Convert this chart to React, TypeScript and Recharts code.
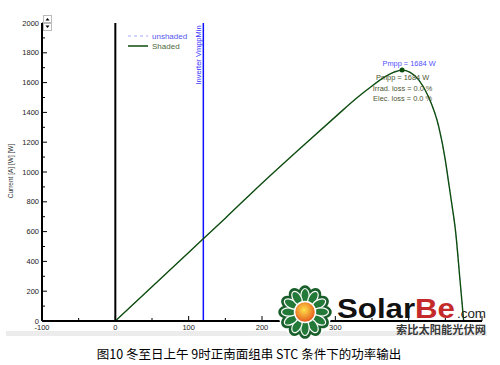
import { ComposedChart, Line, XAxis, YAxis, ReferenceLine, ReferenceDot, Legend } from "recharts";

// array voltage [V] vs power [W]
const voltage = [0, 50, 100, 150, 200, 250, 300, 330, 346, 368, 380, 391, 402, 414, 427, 441, 450, 454, 459, 464, 470, 475];
const power = [0, 230, 460, 690, 925, 1150, 1370, 1500, 1562, 1640, 1670, 1684, 1668, 1617, 1505, 1304, 1080, 946, 780, 600, 275, 0];

const xTicks = [-100, -50, 0, 50, 100, 150, 200, 250, 300, 350, 400, 450, 500];
const xLabels = [-100, 0, 100, 200, 300];
const yTicks = [0, 100, 200, 300, 400, 500, 600, 700, 800, 900, 1000, 1100, 1200, 1300, 1400, 1500, 1600, 1700, 1800, 1900, 2000];
const rightTicks = [200, 400, 600, 800, 1000, 1200, 1400, 1600, 1800, 1900];

const seriesOrder = ["unshaded", "Shaded"];
const vmppMin = 120;
const mppV = 391;
const mppP = 1684;
const infoLines = ["Pmpp = 1684 W", "Irrad. loss = 0.0 %", "Elec. loss = 0.0 %"];

const data = voltage.map((v, i) => ({ v, unshaded: power[i], shaded: power[i] }));

const FONT = "'Liberation Sans', Arial, sans-serif";

function YTick(props: any) {
  const { x, y, payload } = props;
  const major = payload.value % 200 === 0;
  return (
    <g>
      <line x1={x + 3} x2={x + 3 + (major ? 5 : 3)} y1={y} y2={y} stroke="#000" />
      {major && (
        <text x={x} y={y} dy="0.355em" textAnchor="end" fontSize={7.5} fill="#222" fontFamily={FONT}>
          {payload.value}
        </text>
      )}
    </g>
  );
}

function XTick(props: any) {
  const { x, y, payload } = props;
  const major = payload.value % 100 === 0;
  const axisY = y - 4;
  return (
    <g>
      <line x1={x} x2={x} y1={axisY} y2={axisY - (major ? 5 : 3)} stroke="#000" />
      {xLabels.includes(payload.value) && (
        <text x={x} y={y} dy="0.71em" textAnchor="middle" fontSize={7.5} fill="#222" fontFamily={FONT}>
          {payload.value}
        </text>
      )}
    </g>
  );
}

const VmppLabel = (props: any) => {
  const { viewBox } = props;
  const cx = viewBox.x - 2.5;
  const cy = viewBox.y + 32;
  return (
    <text
      x={cx}
      y={cy}
      transform={`rotate(-90 ${cx} ${cy})`}
      textAnchor="middle"
      fontSize={7.5}
      fill="#3333ff"
      fontFamily={FONT}
    >
      Inverter VmppMin
    </text>
  );
};

const MppLabel = (props: any) => {
  const { viewBox } = props;
  const cx = viewBox.x + viewBox.width / 2;
  const cy = viewBox.y + viewBox.height / 2;
  return (
    <g fontFamily={FONT} fontSize={7.4} textAnchor="middle">
      <text x={cx + 7} y={cy - 4} fill="#5050ff">
        Pmpp = {mppP} W
      </text>
      {infoLines.map((t, i) => (
        <text key={t} x={cx + 0.5} y={cy + 10 + i * 10.5} fill="#4b5530">
          {t}
        </text>
      ))}
    </g>
  );
};

const renderLegend = (props: any) => {
  const items = [...props.payload].sort(
    (a: any, b: any) => seriesOrder.indexOf(a.value) - seriesOrder.indexOf(b.value)
  );
  return (
    <div style={{ fontFamily: FONT, fontSize: 8 }}>
      {items.map((entry: any) => {
        const dashed = entry.value === "unshaded";
        return (
          <div key={entry.value} style={{ display: "flex", alignItems: "center", height: 10 }}>
            <svg width={26} height={10}>
              <line
                x1={2}
                x2={22}
                y1={5}
                y2={5}
                stroke={dashed ? "#a8a8ff" : "#0d4d0d"}
                strokeWidth={dashed ? 1 : 1.5}
                strokeDasharray={dashed ? "3 3" : undefined}
              />
            </svg>
            <span style={{ color: dashed ? "#5555ee" : "#4b6b3b" }}>{entry.value}</span>
          </div>
        );
      })}
    </div>
  );
};

function Flower() {
  const petals = Array.from({ length: 12 }, (_, k) => k * 30);
  return (
    <svg width={60} height={60} viewBox="-30 -30 60 60">
      <defs>
        <radialGradient id="sun" cx="45%" cy="40%" r="60%">
          <stop offset="0%" stopColor="#ffe04a" />
          <stop offset="100%" stopColor="#e5561b" />
        </radialGradient>
      </defs>
      <circle r={27} fill="#fff" />
      {petals.map((a) => (
        <ellipse key={"o" + a} cx={0} cy={-16} rx={6} ry={9.5} fill="#1a5f2b" stroke="#1a5f2b" strokeWidth={2.5} transform={`rotate(${a})`} />
      ))}
      {petals.map((a) => (
        <ellipse key={"i" + a} cx={0} cy={-16} rx={4.2} ry={7.5} fill="#237a38" stroke="#fff" strokeWidth={1.2} transform={`rotate(${a})`} />
      ))}
      <circle r={10.5} fill="url(#sun)" stroke="#fff" strokeWidth={1.5} />
    </svg>
  );
}

export default function App() {
  return (
    <div style={{ position: "absolute", left: 0, top: 0, width: 500, height: 365, background: "#fff" }}>
      <div style={{ position: "absolute", left: 6, top: 331, width: 481, height: 5, background: "#ececec" }} />
      <div style={{ position: "absolute", left: 0, top: 0 }}>
        <ComposedChart width={500} height={365} data={data} margin={{ top: 23, right: 18, left: 0, bottom: 0 }}>
          <XAxis
            dataKey="v"
            type="number"
            domain={[-100, 500]}
            ticks={xTicks}
            interval={0}
            allowDataOverflow
            height={44}
            tickSize={0}
            tickMargin={4}
            tick={<XTick />}
            axisLine={{ stroke: "#000", strokeWidth: 2 }}
          />
          <XAxis
            xAxisId="top"
            orientation="top"
            type="number"
            domain={[-100, 500]}
            ticks={xTicks}
            interval={0}
            height={0}
            mirror
            tickSize={3}
            tick={() => <g />}
            tickLine={{ stroke: "#000" }}
            axisLine={{ stroke: "#000", strokeWidth: 2 }}
          />
          <YAxis
            type="number"
            domain={[0, 2000]}
            ticks={yTicks}
            interval={0}
            width={42}
            tickSize={0}
            tickMargin={3}
            tick={<YTick />}
            axisLine={{ stroke: "#000", strokeWidth: 2 }}
            label={{
              content: () => (
                <text
                  x={13}
                  y={171}
                  transform="rotate(-90 13 171)"
                  textAnchor="middle"
                  fontSize={6.5}
                  fill="#333"
                  fontFamily={FONT}
                >
                  Current [A] [W] [W]
                </text>
              ),
            }}
          />
          <YAxis
            yAxisId="r"
            orientation="right"
            type="number"
            domain={[0, 2000]}
            ticks={rightTicks}
            interval={0}
            width={0}
            mirror
            tickSize={4}
            tick={() => <g />}
            tickLine={{ stroke: "#000" }}
            axisLine={{ stroke: "#000", strokeWidth: 1.5 }}
          />
          <Legend
            content={renderLegend}
            layout="vertical"
            align="center"
            verticalAlign="middle"
            wrapperStyle={{ top: 31, left: 126, width: 100 }}
          />
          <ReferenceLine x={0} stroke="#000" strokeWidth={2} />
          <ReferenceLine x={vmppMin} stroke="#1010ff" strokeWidth={1.5} label={{ content: VmppLabel }} />
          <Line
            type="monotone"
            dataKey="unshaded"
            name="unshaded"
            stroke="#a8a8ff"
            strokeDasharray="3 3"
            strokeWidth={1}
            dot={false}
            isAnimationActive={false}
          />
          <Line
            type="monotone"
            dataKey="shaded"
            name="Shaded"
            stroke="#0d4d0d"
            strokeWidth={1.4}
            dot={false}
            isAnimationActive={false}
          />
          <ReferenceDot x={mppV} y={mppP} r={2.5} fill="#0d4d0d" stroke="none" label={{ content: MppLabel }} />
        </ComposedChart>
      </div>
      <svg style={{ position: "absolute", left: 43, top: 15 }} width={10} height={17}>
        <rect x={0.5} y={0.5} width={8} height={7} fill="#fff" stroke="#bbb" />
        <path d="M2.5 5.5 L6.5 5.5 L4.5 3 Z" fill="#000" />
        <rect x={0.5} y={8.5} width={8} height={7} fill="#fff" stroke="#bbb" />
        <path d="M2.5 10.5 L6.5 10.5 L4.5 13 Z" fill="#000" />
      </svg>
      <div style={{ position: "absolute", left: 275, top: 282 }}>
        <Flower />
      </div>
      <svg style={{ position: "absolute", left: 330, top: 290 }} width={165} height={48}>
        <text x={7} y={28} fontFamily={FONT} fontWeight="bold" fontSize={27} textLength={118} lengthAdjust="spacingAndGlyphs">
          <tspan fill="#111">Solar</tspan>
          <tspan fill="#c42a2a">Be</tspan>
        </text>
        <text x={127} y={28} fontFamily={FONT} fontSize={12} fill="#222" textLength={29} lengthAdjust="spacingAndGlyphs">
          .com
        </text>
        <text
          x={66}
          y={44}
          fontFamily="'Noto Sans CJK SC', sans-serif"
          fontWeight="bold"
          fontSize={11}
          fill="#3a3a3a"
          textLength={90}
          lengthAdjust="spacingAndGlyphs"
        >
          索比太阳能光伏网
        </text>
      </svg>
      <div
        style={{
          position: "absolute",
          left: 0,
          top: 345,
          width: 498,
          textAlign: "center",
          fontFamily: "'Noto Sans CJK SC', sans-serif",
          fontSize: 12.5,
          lineHeight: "18px",
          color: "#000",
        }}
      >
        图10 冬至日上午 9时正南面组串 STC 条件下的功率输出
      </div>
    </div>
  );
}
